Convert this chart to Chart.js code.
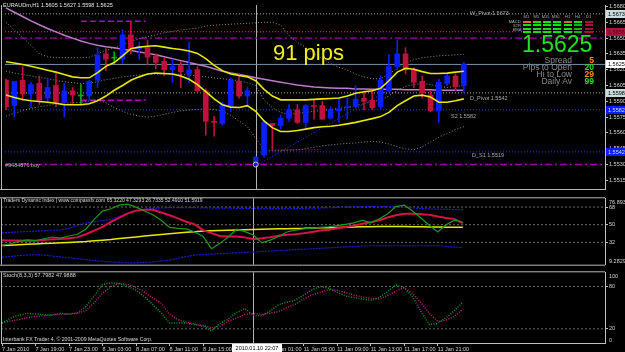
<!DOCTYPE html>
<html><head><meta charset="utf-8">
<script src="https://cdn.jsdelivr.net/npm/chart.js@4.4.1/dist/chart.umd.min.js"></script>
<style>
html,body{margin:0;padding:0;background:#000;width:625px;height:352px;overflow:hidden;position:relative;}
canvas{position:absolute;left:0;}
.t{position:absolute;white-space:nowrap;font-family:'Liberation Sans',Arial,sans-serif;line-height:1;}
.cell{position:absolute;}
</style></head><body>
<canvas id="cA" width="625" height="194" style="top:0px"></canvas>
<canvas id="cB" width="625" height="75" style="top:194px"></canvas>
<canvas id="cC" width="625" height="84" style="top:268px"></canvas>
<script>
// ---------------- DATA ----------------
const barTimes = ["7 Jan 15:00","7 Jan 16:00","7 Jan 17:00","7 Jan 18:00","7 Jan 19:00","7 Jan 20:00","7 Jan 21:00","7 Jan 22:00","7 Jan 23:00",
"8 Jan 00:00","8 Jan 01:00","8 Jan 02:00","8 Jan 03:00","8 Jan 04:00","8 Jan 05:00","8 Jan 06:00","8 Jan 07:00","8 Jan 08:00","8 Jan 09:00","8 Jan 10:00","8 Jan 11:00","8 Jan 12:00","8 Jan 13:00","8 Jan 14:00","8 Jan 15:00","8 Jan 16:00","8 Jan 17:00","8 Jan 18:00","8 Jan 19:00","8 Jan 20:00",
"10 Jan 22:00","11 Jan 00:00","11 Jan 01:00","11 Jan 02:00","11 Jan 03:00","11 Jan 04:00","11 Jan 05:00","11 Jan 06:00","11 Jan 07:00","11 Jan 08:00","11 Jan 09:00","11 Jan 10:00","11 Jan 11:00","11 Jan 12:00","11 Jan 13:00","11 Jan 14:00","11 Jan 15:00","11 Jan 16:00","11 Jan 17:00","11 Jan 18:00","11 Jan 19:00","11 Jan 20:00","11 Jan 21:00","11 Jan 22:00","11 Jan 23:00","12 Jan 00:00"];
const timeTickLabels = ["7 Jan 2010","7 Jan 19:00","7 Jan 23:00","8 Jan 03:00","8 Jan 07:00","8 Jan 11:00","8 Jan 15:00","8 Jan 19:00","11 Jan 01:00","11 Jan 05:00","11 Jan 09:00","11 Jan 13:00","11 Jan 17:00","11 Jan 21:00"];
const priceTicks = [1.5515,1.5530,1.5545,1.5560,1.5575,1.5590,1.5605,1.5620,1.5635,1.5650,1.5665,1.5680];

const open = [1.5610,1.5586,1.5610,1.5597,1.5607,1.5593,1.5605,1.5589,1.5600,1.5595,
1.5595,1.5610,1.5635,1.5631,1.5630,1.5653,1.5640,1.5641,1.5633,1.5628,
1.5620,1.5624,1.5616,1.5620,1.5600,1.5571,1.5569,1.5585,1.5609,1.5595,
1.5530,1.5539,1.5569,1.5567,1.5574,1.5582,1.5570,1.5586,1.5586,1.5574,
1.5581,1.5584,1.5585,1.5593,1.5591,1.5585,1.5600,1.5623,1.5635,1.5620,
1.5609,1.5596,1.5581,1.5607,1.5614,1.5605];
const high = [1.5611,1.5609,1.5623,1.5608,1.5614,1.5612,1.5616,1.5607,1.5603,1.5606,
1.5610,1.5641,1.5640,1.5637,1.5658,1.5666,1.5646,1.5648,1.5635,1.5631,
1.5630,1.5628,1.5646,1.5623,1.5602,1.5576,1.5589,1.5612,1.5616,1.5603,
1.5538,1.5571,1.5569,1.5577,1.5587,1.5587,1.5587,1.5591,1.5590,1.5585,
1.5593,1.5593,1.5605,1.5599,1.5600,1.5614,1.5634,1.5648,1.5641,1.5622,
1.5614,1.5600,1.5611,1.5616,1.5616,1.5627];
const low = [1.5582,1.5575,1.5591,1.5584,1.5587,1.5589,1.5585,1.5575,1.5587,1.5587,
1.5591,1.5603,1.5619,1.5626,1.5626,1.5635,1.5630,1.5625,1.5621,1.5614,
1.5608,1.5603,1.5608,1.5599,1.5558,1.5557,1.5567,1.5580,1.5593,1.5585,
1.5529,1.5537,1.5544,1.5564,1.5571,1.5569,1.5564,1.5573,1.5573,1.5573,
1.5570,1.5573,1.5584,1.5582,1.5582,1.5582,1.5599,1.5620,1.5616,1.5603,
1.5593,1.5580,1.5570,1.5605,1.5600,1.5598];
const close = [1.5585,1.5609,1.5597,1.5606,1.5591,1.5603,1.5589,1.5600,1.5596,1.5595,
1.5609,1.5634,1.5630,1.5631,1.5653,1.5640,1.5642,1.5632,1.5627,1.5620,
1.5623,1.5618,1.5620,1.5600,1.5571,1.5570,1.5587,1.5610,1.5595,1.5600,
1.5537,1.5570,1.5567,1.5574,1.5582,1.5570,1.5586,1.5585,1.5573,1.5582,
1.5583,1.5585,1.5592,1.5590,1.5584,1.5610,1.5623,1.5635,1.5620,1.5608,
1.5598,1.5581,1.5608,1.5614,1.5604,1.5625];

const bandUpper = [1.56275,1.56264,1.5625,1.56232,1.56214,1.56195,1.56177,1.56155,1.56132,1.56123,
1.56123,1.56173,1.56232,1.56268,1.56332,1.564,1.56414,1.56423,1.56427,1.56414,
1.56402,1.56391,1.56377,1.56355,1.56305,1.56241,1.56191,1.56159,1.56145,1.56132,
1.56095,1.56014,1.5595,1.55914,1.55914,1.55914,1.55914,1.55918,1.55923,1.55927,
1.55932,1.5595,1.55977,1.55991,1.5600,1.56023,1.56095,1.56177,1.56214,1.56205,
1.56182,1.56164,1.56164,1.56168,1.56177,1.56186];
const bandLower = [1.55959,1.55936,1.55918,1.55906,1.55898,1.55891,1.55882,1.55868,1.55868,1.55868,
1.55877,1.55905,1.5595,1.56005,1.5605,1.561,1.56132,1.56159,1.56168,1.56164,
1.56159,1.56141,1.56109,1.56059,1.55991,1.55923,1.55868,1.55845,1.55841,1.55859,
1.55805,1.55714,1.5565,1.55614,1.55614,1.55623,1.55636,1.5565,1.55659,1.55664,
1.55673,1.55686,1.557,1.55718,1.55736,1.55755,1.55795,1.55859,1.55905,1.5595,
1.55959,1.55941,1.55891,1.55891,1.55905,1.55923];
const slowMA = [1.56786,1.56745,1.56705,1.56664,1.56627,1.56591,1.56559,1.56527,1.565,1.56473,
1.5645,1.56432,1.56418,1.56409,1.56395,1.56382,1.56368,1.56355,1.56341,1.56323,
1.56305,1.56286,1.56268,1.5625,1.56232,1.56209,1.56186,1.56168,1.56155,1.56141,
1.56123,1.56109,1.56095,1.56082,1.56068,1.56055,1.56045,1.56036,1.56032,1.56027,
1.56023,1.56023,1.56018,1.56018,1.56014,1.56014,1.56014,1.56014,1.56009,1.56009,
1.56009,1.56009,1.56005,1.56005,1.56005,1.56005];
const envUpper = [1.5665,1.56577,1.56505,1.56432,1.5635,1.56323,1.56314,1.56314,1.56314,1.56314,
1.56318,1.5635,1.56386,1.56405,1.56436,1.56468,1.56495,1.56514,1.56532,1.5655,
1.56564,1.56577,1.56586,1.56595,1.56614,1.56623,1.56627,1.56632,1.56636,1.56641,
1.56645,1.5665,1.5665,1.56623,1.56523,1.56459,1.56414,1.5635,1.56305,1.56259,
1.56223,1.56195,1.56159,1.56132,1.56114,1.56114,1.56159,1.56214,1.56268,1.56295,
1.56314,1.56323,1.56332,1.56336,1.56341,1.56345];
const envMid = [1.56186,1.56168,1.56155,1.56141,1.56127,1.56114,1.561,1.56086,1.56077,1.56068,
1.56073,1.56086,1.56105,1.56118,1.56132,1.56141,1.5615,1.56155,1.56159,1.56159,
1.56159,1.56155,1.5615,1.56141,1.56132,1.56123,1.56114,1.56105,1.56095,1.56077,
1.5605,1.55914,1.55841,1.55795,1.55777,1.55786,1.55795,1.55805,1.55814,1.55823,
1.55832,1.55841,1.55859,1.55877,1.55895,1.55914,1.5595,1.56005,1.56041,1.56059,
1.56068,1.56059,1.56041,1.56032,1.56041,1.5605];
const envLower = [1.55759,1.55786,1.55814,1.55832,1.5585,1.55859,1.55873,1.55882,1.55886,1.55891,
1.55905,1.55914,1.55886,1.55841,1.55805,1.55777,1.55759,1.5575,1.55759,1.55777,
1.55795,1.55809,1.55818,1.55823,1.55827,1.55823,1.55805,1.55768,1.55714,1.55659,
1.5555,1.55441,1.55432,1.55432,1.55436,1.55441,1.5545,1.55464,1.55477,1.55486,
1.55495,1.555,1.55505,1.55514,1.55518,1.55514,1.55495,1.55468,1.5545,1.55441,
1.55468,1.55514,1.55559,1.55595,1.55632,1.55659];

const levelValues = [1.5673,1.5656,1.5650,1.5625,1.5598,1.5582,1.5542,1.5530];
const levelKinds  = ['pivot','pinkdot','dashdot','bid','pivot','bluedot','bluedot','dashdot'];
const rangeLevels = [1.5666,1.5591];
const rangeSpan = [9,16.8];
const weekendLevel = 1.5544;
const weekendSpan = [32,37.7];
const trendX = [30.4,46.3];
const trendY = [1.55305,1.56023];
const orderMark = {x:30, y:1.5530};
const crossIdx = 30;
const crossLabel = "2010.01.10 22:07";
const axisMarks = [1.5673,1.5656,1.5625,1.5598,1.5582,1.5542];
const axisMarkKinds = ['light','red','white','light','blue','blue'];

const tdiGreen = [28.8,30.6,33,34.6,33.7,35.7,37.5,36.4,38.5,40.3,45.4,55.5,63.9,66.2,69.9,71,67.9,63.9,60.2,54.6,47.2,46.3,45.8,42.6,38,25.6,31,37.5,45.4,43,39.5,31.5,34.3,38,42.6,44.5,45.8,46.5,47.2,47.9,49.1,50.3,51.8,54.3,52.2,55.8,61,68.5,69.9,63.9,56.9,49.5,42.6,50,54.6,52.4910];
const tdiRed = [34.3,34,33.8,33.6,33.7,34.5,35.2,35.5,36.1,37.1,40.3,43.9,47.7,52.8,57.2,61.5,64.3,65.2,65.2,62.5,59.6,56.5,53,50.3,44.5,41.4,38.5,38,38,37.1,35.2,36.1,37.3,38.7,39.8,40.3,41.2,42.6,44,44.9,46.3,47.7,49.3,50.9,52.4,54.6,57.4,59.6,61.1,61.1,60.6,60.2,58.3,56.9,55.7,51.5919];
const tdiBase = [28.8,29.2,29.6,30,30.4,30.8,31.2,31.6,32,32.4,32.9,33.6,34.3,35,35.9,36.8,37.6,38.4,39.3,40.1,40.9,41.6,42.3,42.9,43.5,43.8,44.1,44.4,44.6,44.9,45.1,45.4,45.6,45.8,46,46.2,46.3,46.6,46.8,47,47.2,47.4,47.6,47.8,48,48.1,48.2,48.2,48.2,48,47.9,47.7,47.6,47.5,47.4,47.3293];
const tdiUpper = [41.7,42.2,42.6,43.1,43.5,44,44.5,44.6,46.3,49.1,51.8,53.2,54.2,55.5,58.3,61.1,63.9,65.7,66.6,67.1,67.3,67.4,67.4,67.3,67.2,67,66.9,66.8,66.7,66.6,66.5,66.4,66.4,66.3,66.3,66.4,66.6,66.8,67,67.3,67.6,67.9,68.1,68.3,68.4,68.4,68.3,68.1,67.8,67.2,66.6,66.1,65.8,65.6,65.4,65.3220];
const tdiLower = [16.8,17.7,18.6,19.1,19.5,19.1,18.1,17.2,16.3,15.4,14.5,13.5,12.6,12.1,11.7,11.2,11.2,11.7,12.1,13.1,14,15.8,17.7,19.1,19.5,20,20.5,20.9,21.4,21.8,22.3,22.8,23.2,23.7,24.1,24.6,25.1,25.5,26,26.5,26.9,27.4,27.8,28.3,28.8,28.8,28.8,28.8,28.8,28.8,28.8,28.8,28.8,27.8,27.2,26.7335];
const tdiLevels = [32,50,68];
const tdiRange = [9.2829,76.8937];

const stochK = [28.2,35.1,39.2,41.9,41.1,40,39.7,41.9,40.8,42.6,51.4,66.4,82.8,85.1,84.2,79.8,74.6,65.6,54.2,42.6,28.2,28.2,28.2,25.8,23.9,17.3,27.6,33.7,43.2,48.7,39.2,38.5,45.3,54.2,57.6,60.6,67.8,75.3,80.1,77.4,71.9,66.4,64.1,62.3,60.3,64.4,72.6,82.1,78,65.1,44.6,26.2,27.6,35.7,46,57.7982];
const stochD = [28.2,31,33,35.7,37.8,38.5,39.4,40.5,40.8,41.9,46,56.9,70.5,79.7,84.2,82.8,78.7,71.9,63.7,56.2,40.5,33,29.6,26.9,24.8,21.4,23.5,31,35.1,40.5,41.6,40.5,41.9,44.6,50.1,54.8,62.3,67.8,71.9,75.3,74.6,71.2,67.8,65.1,63,62.3,67.1,73.3,78.3,69.8,56.9,41.9,30.3,32.3,37.8,47.9888];
const stochLevels = [20,80];

const infoLabels = ['Spread','Pips to Open','Hi to Low','Daily Av'];
const infoValues = ['5','20','29','99'];
const infoKinds = ['warn','ok','warn','ok'];
const tfLabels = ['M1','M5','M15','M30','H1','H4','D1'];
const sigRowLabels = ['MACD','STR','EMA'];
const sigRows = ['oGGGoGr','GGGGGgr','GGGGGgr','GGGGGgr'];

// ---------------- STYLE / LAYOUT ----------------
const X_MIN = -0.12, X_MAX = 71.96;
const FONT = "'Liberation Sans', Arial, sans-serif";
Chart.defaults.font.family = FONT;
Chart.defaults.color = '#d0d0d0';
const BULL = '#0a1eff', BEAR = '#c0103c', DOJI = '#00b000';
const levelStyle = {
  pivot:  {c:'#a8a8a8', d:[1,2], w:1},
  pinkdot:{c:'#e0207a', d:[1,2], w:1},
  dashdot:{c:'#a000a8', d:[7,3,2,3], w:1.4},
  bid:    {c:'#7890a4', d:[], w:1},
  bluedot:{c:'#2030ff', d:[1,2], w:1}
};
const markStyle = {light:['#c8dcdc','#000'], red:['#a8143c','#5a0018'], white:['#ffffff','#000'], blue:['#0820ff','#d0d8ff']};

const pts = arr => arr.map((v,i)=>({x:i,y:v}));
const line = (data,color,w,dash,order) => ({type:'line',data,borderColor:color,borderWidth:w,borderDash:dash||[],pointRadius:0,tension:0,fill:false,order,clip:0});
const hline = (v,from,to,st,order) => line([{x:from,y:v},{x:to,y:v}],st.c,st.w,st.d,order);
const candleColor = i => close[i] > open[i] ? BULL : (close[i] < open[i] ? BEAR : DOJI);
const last = arr => arr[arr.length - 1];

const yAxisBase = (min,max,ticks,fmt) => ({
  position:'right', min, max,
  afterFit: s => { s.width = 20; },
  afterBuildTicks: s => { s.ticks = ticks.map(v=>({value:v})); },
  ticks:{callback: fmt, font:{size:5.5}, color:'#d4d4d4', padding:1, autoSkip:false},
  grid:{drawOnChartArea:false, drawTicks:true, tickLength:3, color:'#c0c0c0'},
  border:{display:true, color:'#c0c0c0'}
});
const xHidden = {type:'linear', min:X_MIN, max:X_MAX, display:false, offset:false, grid:{offset:false}};
const baseOpts = {responsive:false, animation:false, devicePixelRatio:1,
  plugins:{legend:{display:false}, tooltip:{enabled:false}}};

function crosshair(chart){
  const ca = chart.chartArea, ctx = chart.ctx;
  const x = Math.round(chart.scales.x.getPixelForValue(crossIdx)) + 0.5;
  ctx.save(); ctx.strokeStyle = '#b0b0b0'; ctx.lineWidth = 1;
  ctx.beginPath(); ctx.moveTo(x, ca.top); ctx.lineTo(x, ca.bottom); ctx.stroke(); ctx.restore();
}
function frame(chart, topLine, bottomLine){
  const ca = chart.chartArea, ctx = chart.ctx;
  ctx.save(); ctx.strokeStyle = '#b8b8b8'; ctx.lineWidth = 1;
  ctx.beginPath(); ctx.moveTo(1.5, ca.top); ctx.lineTo(1.5, ca.bottom); ctx.stroke();
  if (topLine) { ctx.beginPath(); ctx.moveTo(0, ca.top - 0.5); ctx.lineTo(ca.right, ca.top - 0.5); ctx.stroke(); }
  if (bottomLine) { ctx.beginPath(); ctx.moveTo(0, ca.bottom + 0.5); ctx.lineTo(ca.right, ca.bottom + 0.5); ctx.stroke(); }
  ctx.restore();
}
function edgeLabels(chart, topTxt, botTxt){
  const ca = chart.chartArea, ctx = chart.ctx;
  ctx.save(); ctx.fillStyle = '#d4d4d4'; ctx.font = '5.5px ' + FONT; ctx.textBaseline = 'middle';
  ctx.fillText(topTxt, ca.right + 4, ca.top + 4);
  ctx.fillText(botTxt, ca.right + 4, ca.bottom - 3);
  ctx.restore();
}

// ---------------- MAIN PRICE CHART ----------------
const mainSets = [];
levelValues.forEach((v,k)=> mainSets.push(hline(v, X_MIN, X_MAX, levelStyle[levelKinds[k]], 30)));
rangeLevels.forEach(v => mainSets.push(hline(v, rangeSpan[0], rangeSpan[1], {c:'#b000b8', d:[6,3], w:1.4}, 30)));
mainSets.push(hline(weekendLevel, weekendSpan[0], weekendSpan[1], levelStyle.pinkdot, 30));
mainSets.push(line([{x:trendX[0],y:trendY[0]},{x:trendX[1],y:trendY[1]}], '#2a3cff', 1, [1,2], 29));
mainSets.push(line(pts(envUpper), '#8a8a8a', 1, [1,2], 25));
mainSets.push(line(pts(envMid), '#8a8a8a', 1, [1,2], 25));
mainSets.push(line(pts(envLower), '#8a8a8a', 1, [1,2], 25));
mainSets.push(line(pts(slowMA), '#bd7ccc', 1.5, [], 22));
mainSets.push({type:'bar', data: low.map((l,i)=>({x:i, y:[l, high[i]]})), backgroundColor: open.map((_,i)=>candleColor(i)), barThickness:1, grouped:false, borderWidth:0, order:12});
mainSets.push({type:'bar', data: open.map((o,i)=>({x:i, y:[o, close[i]]})), backgroundColor: open.map((_,i)=>candleColor(i)), barThickness:5, minBarLength:1, grouped:false, borderWidth:0, order:11});
mainSets.push(line(pts(bandUpper), '#e8e800', 1.6, [], 5));
mainSets.push(line(pts(bandLower), '#e8e800', 1.6, [], 5));
mainSets.push({type:'scatter', data:[orderMark], pointRadius:2.5, pointStyle:'circle', borderColor:'#c8c8c8', backgroundColor:'rgba(0,0,0,0)', borderWidth:1, order:1});

new Chart(document.getElementById('cA'), {
  type:'bar',
  data:{datasets: mainSets},
  options: Object.assign({}, baseOpts, {
    layout:{padding:{left:1, top:1, right:0, bottom:1}},
    scales:{ x: xHidden, y: yAxisBase(1.55068, 1.56814, priceTicks, v => Number(v).toFixed(4)) }
  }),
  plugins:[{id:'mainDeco',
    beforeDatasetsDraw: c => crosshair(c),
    afterDraw: c => {
      frame(c, false, true);
      const ca = c.chartArea, ctx = c.ctx, ys = c.scales.y;
      ctx.save(); ctx.font = '5.5px ' + FONT; ctx.textBaseline = 'middle';
      axisMarks.forEach((v,k) => {
        const y = Math.round(ys.getPixelForValue(v));
        const st = markStyle[axisMarkKinds[k]];
        ctx.fillStyle = st[0]; ctx.fillRect(ca.right + 1, y - 4, 20, 8);
        ctx.fillStyle = st[1]; ctx.fillText(v.toFixed(4), ca.right + 3, y + 0.5);
      });
      ctx.restore();
    }}]
});

// ---------------- TDI PANEL ----------------
const tdiSets = [];
tdiLevels.forEach(v => tdiSets.push(hline(v, X_MIN, X_MAX, {c:'#6c6c6c', d:[2,2], w:1}, 30)));
tdiSets.push(line(pts(tdiUpper), '#1a1ad0', 1.2, [2,1], 10));
tdiSets.push(line(pts(tdiLower), '#1a1ad0', 1.2, [2,1], 10));
tdiSets.push(line(pts(tdiBase), '#e8e800', 1.5, [], 8));
tdiSets.push(line(pts(tdiRed), '#d8104c', 2, [], 6));
tdiSets.push(line(pts(tdiGreen), '#1a9a1a', 1.2, [], 4));
new Chart(document.getElementById('cB'), {
  type:'line',
  data:{datasets: tdiSets},
  options: Object.assign({}, baseOpts, {
    layout:{padding:{left:1, top:1, right:0, bottom:1}},
    scales:{ x: xHidden, y: yAxisBase(tdiRange[0], tdiRange[1], tdiLevels, v => String(v)) }
  }),
  plugins:[{id:'tdiDeco',
    beforeDatasetsDraw: c => crosshair(c),
    afterDraw: c => { frame(c, true, true); edgeLabels(c, tdiRange[1].toFixed(4), tdiRange[0].toFixed(4)); }}]
});

// ---------------- STOCHASTIC PANEL + TIME AXIS ----------------
const stSets = [];
stochLevels.forEach(v => stSets.push(hline(v, X_MIN, X_MAX, {c:'#6c6c6c', d:[2,2], w:1}, 30)));
stSets.push(line(pts(stochD), '#c8208a', 1.4, [1,1.5], 6));
stSets.push(line(pts(stochK), '#14a014', 1.4, [1,1.5], 4));
const timeTickIdx = timeTickLabels.map(l => { const i = barTimes.indexOf(l); return i < 0 ? 0 : i; });
new Chart(document.getElementById('cC'), {
  type:'line',
  data:{datasets: stSets},
  options: Object.assign({}, baseOpts, {
    layout:{padding:{left:1, top:1, right:0, bottom:0}},
    scales:{
      x:{type:'linear', min:X_MIN, max:X_MAX, offset:false, position:'bottom',
        afterFit: s => { s.height = 9; },
        afterBuildTicks: s => { s.ticks = timeTickIdx.map(v=>({value:v})); },
        ticks:{autoSkip:false, maxRotation:0, align:'start', padding:0, font:{size:5.5}, color:'#d4d4d4',
          callback: (v) => { const k = timeTickIdx.indexOf(v); return k < 0 ? '' : timeTickLabels[k]; }},
        grid:{drawOnChartArea:false, drawTicks:true, tickLength:3, color:'#c0c0c0'},
        border:{display:true, color:'#c0c0c0'}},
      y: yAxisBase(0, 100, stochLevels, v => String(v))
    }
  }),
  plugins:[{id:'stDeco',
    beforeDatasetsDraw: c => crosshair(c),
    afterDraw: c => {
      frame(c, true, false); edgeLabels(c, '100', '0');
      const ctx = c.ctx, ca = c.chartArea;
      const x = Math.round(c.scales.x.getPixelForValue(crossIdx));
      ctx.save(); ctx.fillStyle = '#ffffff'; ctx.fillRect(x - 21, ca.bottom + 1, 50, 8);
      ctx.fillStyle = '#000'; ctx.font = '5.5px ' + FONT; ctx.textBaseline = 'middle'; ctx.textAlign = 'center';
      ctx.fillText(crossLabel, x + 4, ca.bottom + 5.5); ctx.restore();
    }}]
});

// ---------------- TEXT OVERLAYS (real DOM text) ----------------
function addText(txt, x, base, fs, color, align, weight){
  const d = document.createElement('div');
  d.className = 't'; d.textContent = txt;
  const k = fs < 8 ? 2 : 1;
  d.style.fontSize = (fs*k) + 'px'; d.style.color = color; d.style.fontWeight = weight || 'normal';
  d.style.top = (base - 0.8465*fs) + 'px';
  if (align === 'right') { d.style.right = (625 - x) + 'px'; d.style.transformOrigin = '100% 0'; }
  else { d.style.left = x + 'px'; d.style.transformOrigin = '0 0'; }
  if (k !== 1) d.style.transform = 'scale(' + (1/k) + ')';
  document.body.appendChild(d);
}
const f4 = v => v.toFixed(4);
addText('EURAUDm,H1  ' + [last(open),last(high),last(low),last(close)].map(f4).join(' '), 3, 7, 5.5, '#e8e8e8');
addText('91 pips', 273, 61, 22, '#f0f020');
addText('#9484876 buy', 5, 167, 5.5, '#b4b4b4');
addText('W_Pivot 1.5673', 470, 15, 5.5, '#a8a8a8');
addText('D_Pivot 1.5542', 470, 100, 5.5, '#a8a8a8');
addText('S2 1.5582', 451, 118, 5.5, '#a8a8a8');
addText('D_S1 1.5519', 472, 157, 5.5, '#a8a8a8');
addText(f4(last(close)), 522, 52.5, 23, '#22e222');
const infoBase = [62.7, 69.7, 76.7, 83.7];
infoLabels.forEach((l,k) => {
  addText(l, 572, infoBase[k], 8.5, '#8c8c8c', 'right');
  addText(infoValues[k], 594, infoBase[k], 8.5, infoKinds[k] === 'ok' ? '#22e222' : '#ff8a10', 'right', 'bold');
});
addText('Traders Dynamic Index | www.compassfx.com  ' + [last(tdiUpper),last(tdiBase),last(tdiLower),last(tdiGreen),last(tdiRed)].map(f4).join(' '), 3, 202.5, 5, '#d8d8d8');
addText('Stoch(8,3,3) ' + f4(last(stochK)) + ' ' + f4(last(stochD)), 3, 277, 5.5, '#d8d8d8');
addText('Interbank FX Trader 4, \u00A9 2001-2009 MetaQuotes Software Corp.', 3, 341, 5.2, '#d8d8d8');

// signal grid widget
const colX = [523,533,543,553,564,574,585];
const sigColor = {o:'#ff5a3a', G:'#10e010', g:'#0cb40c', r:'#a8103c'};
tfLabels.forEach((t,k) => addText(t, colX[k] + 4 + (t.length>2?3:2), 18, 4, '#b0b0b0', 'right'));
sigRowLabels.forEach((t,k) => addText(t, 521, 23 + k*4, 4, '#b0b0b0', 'right'));
sigRows.forEach((row, r) => {
  row.split('').forEach((ch, k) => {
    const d = document.createElement('div'); d.className = 'cell';
    d.style.left = colX[k] + 'px'; d.style.top = (20.7 + r*3.4) + 'px';
    d.style.width = '8px'; d.style.height = '2.4px'; d.style.background = sigColor[ch];
    document.body.appendChild(d);
  });
});
</script>
</body></html>
